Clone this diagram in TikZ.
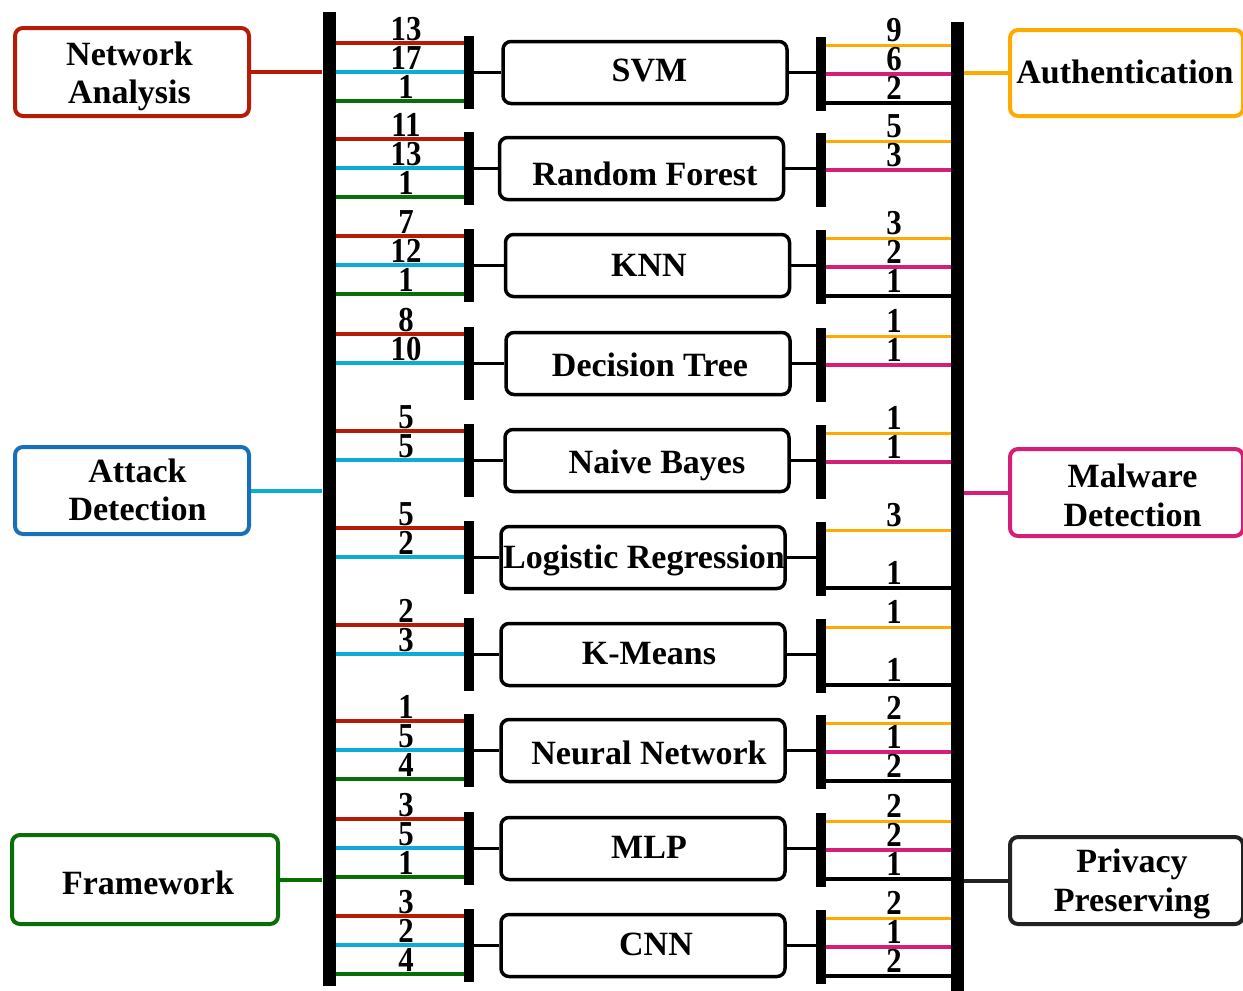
\documentclass[tikz,border=0pt]{standalone}
\usepackage{fontspec}
\setmainfont{Liberation Serif}
\newfontfamily\numfont[FakeStretch=0.88]{Liberation Serif}
\definecolor{nared}{RGB}{180,28,8}
\definecolor{adcyan}{RGB}{12,172,214}
\definecolor{adblue}{RGB}{24,112,184}
\definecolor{fwgreen}{RGB}{8,110,8}
\definecolor{auorange}{RGB}{255,170,0}
\definecolor{mwpink}{RGB}{212,30,120}
\definecolor{ppgray}{RGB}{34,34,34}
\tikzset{
  algobox/.style={draw, line width=3.5pt, rounded corners=8pt, minimum width=284pt,
    minimum height=62pt, inner sep=0pt},
  catbox/.style={draw, line width=4pt, rounded corners=8pt, inner sep=0pt},
  boxtext/.style={anchor=base, inner sep=0pt, text height=0.68em, text depth=0pt,
    font=\fontsize{34}{38}\selectfont\bfseries},
  mainbar/.style={fill=black, inner sep=0pt, minimum width=13pt},
  subbar/.style={fill=black, inner sep=0pt, minimum width=10pt},
  link/.style={line width=3.5pt},
  thinlink/.style={line width=3pt},
  stub/.style={line width=3.5pt},
  catlink/.style={line width=4pt},
  num/.style={anchor=base, inner sep=0pt, text height=0.66em, text depth=0pt,
    font=\numfont\fontsize{35}{35}\selectfont\bfseries}
}
\begin{document}
\begin{tikzpicture}[x=1pt,y=-1pt]
\useasboundingbox (0,0) rectangle (1243,991);
\clip (0,0) rectangle (1243,991);

% two main vertical bars
\node[mainbar, minimum height=974pt] (mainL) at (329,499) {};
\node[mainbar, minimum height=975pt] (mainR) at (957.5,509.5) {};

% algorithm rows: index / top line y / box centre x / text x / text baseline / name
\foreach \i/\r/\bx/\tx/\ty/\name in {
  0/43/645/649.5/81.5/SVM,
  1/139/641.5/645/185/Random Forest,
  2/236/647.5/649/276.5/KNN,
  3/334/648/650/376.5/Decision Tree,
  4/431/647/657/473/Naive Bayes,
  5/528/643/644/568/Logistic Regression,
  6/625/643/649/664/K-Means,
  7/721/643/649/764/Neural Network,
  8/819/643/649/858/MLP,
  9/916/643/656/955/CNN}{
  \coordinate (ya\i) at (0,\r);
  \coordinate (yb\i) at (0,\r+29);
  \coordinate (yc\i) at (0,\r+58);
  \coordinate (za\i) at (0,\r+2);
  \coordinate (zb\i) at (0,\r+31);
  \coordinate (zc\i) at (0,\r+60);
  \node[algobox] (box\i) at (\bx,\r+29.5) {};
  \node[boxtext] (txt\i) at (\tx,\ty) {\name};
  \node[subbar, minimum height=73pt] (sl\i) at (469,\r+29.5) {};
  \node[subbar, minimum height=74pt] (sr\i) at (821,\r+31) {};
  \draw[stub] (sl\i.east |- box\i.west) -- (box\i.west);
  \draw[stub] (box\i.east) -- (sr\i.west |- box\i.east);
}

% left side: Network Analysis (red), Attack Detection (cyan), Framework (green)
\foreach \i in {0,...,9}{
  \draw[link, nared] (mainL.east |- ya\i) -- (sl\i.west |- ya\i);
  \draw[link, adcyan] (mainL.east |- yb\i) -- (sl\i.west |- yb\i);
}
\foreach \i in {0,1,2,7,8,9}{
  \draw[link, fwgreen] (mainL.east |- yc\i) -- (sl\i.west |- yc\i);
}

% right side: Authentication (orange), Malware Detection (pink), Privacy Preserving (black)
\foreach \i in {0,...,9}{
  \draw[thinlink, auorange] (sr\i.east |- za\i) -- (mainR.west |- za\i);
}
\foreach \i in {0,1,2,3,4,7,8,9}{
  \draw[link, mwpink] (sr\i.east |- zb\i) -- (mainR.west |- zb\i);
}
\foreach \i in {0,2,5,6,7,8,9}{
  \draw[link, black] (sr\i.east |- zc\i) -- (mainR.west |- zc\i);
}

% counts on the left lines
\foreach \i/\a/\b in {0/13/17,1/11/13,2/7/12,3/8/10,4/5/5,5/5/2,6/2/3,7/1/5,8/3/5,9/3/2}{
  \path (406,0 |- ya\i) ++(0,-3) node[num] (la\i) {\a};
  \path (406,0 |- yb\i) ++(0,-3) node[num] (lb\i) {\b};
}
\foreach \i/\c in {0/1,1/1,2/1,7/4,8/1,9/4}{
  \path (406,0 |- yc\i) ++(0,-3) node[num] (lc\i) {\c};
}

% counts on the right lines
\foreach \i/\a in {0/9,1/5,2/3,3/1,4/1,5/3,6/1,7/2,8/2,9/2}{
  \path (894,0 |- za\i) ++(0,-4) node[num] (ra\i) {\a};
}
\foreach \i/\b in {0/6,1/3,2/2,3/1,4/1,7/1,8/2,9/1}{
  \path (894,0 |- zb\i) ++(0,-4) node[num] (rb\i) {\b};
}
\foreach \i/\c in {0/2,2/1,5/1,6/1,7/2,8/1,9/2}{
  \path (894,0 |- zc\i) ++(0,-4) node[num] (rc\i) {\c};
}

% category boxes and their titles
\node[catbox, draw=nared, minimum width=234pt, minimum height=88pt] (na) at (132,72) {};
\node[boxtext] (na1) at (129.5,65) {Network};
\node[boxtext] (na2) at (129.5,103) {Analysis};

\node[catbox, draw=adblue, minimum width=234pt, minimum height=87pt] (ad) at (132,490.5) {};
\node[boxtext] (ad1) at (137.5,482) {Attack};
\node[boxtext] (ad2) at (137.5,520) {Detection};

\node[catbox, draw=fwgreen, minimum width=266pt, minimum height=89pt] (fw) at (145,879.5) {};
\node[boxtext] (fw1) at (148,894) {Framework};

\node[catbox, draw=auorange, minimum width=233pt, minimum height=86pt] (au) at (1126.5,73) {};
\node[boxtext] (au1) at (1125,83) {Authentication};

\node[catbox, draw=mwpink, minimum width=233pt, minimum height=87pt] (mw) at (1126.5,492.5) {};
\node[boxtext] (mw1) at (1132.5,487) {Malware};
\node[boxtext] (mw2) at (1132.5,526) {Detection};

\node[catbox, draw=ppgray, minimum width=233pt, minimum height=87pt] (pp) at (1126.5,880.5) {};
\node[boxtext] (pp1) at (1132,872) {Privacy};
\node[boxtext] (pp2) at (1132,911) {Preserving};

\draw[catlink, nared] (na.east) -- (mainL.west |- na.east);
\draw[catlink, adcyan] (ad.east) -- (mainL.west |- ad.east);
\draw[catlink, fwgreen] (fw.east) -- (mainL.west |- fw.east);
\draw[catlink, auorange] (mainR.east |- au.west) -- (au.west);
\draw[catlink, mwpink] (mainR.east |- mw.west) -- (mw.west);
\draw[catlink, ppgray] (mainR.east |- pp.west) -- (pp.west);
\end{tikzpicture}
\end{document}
